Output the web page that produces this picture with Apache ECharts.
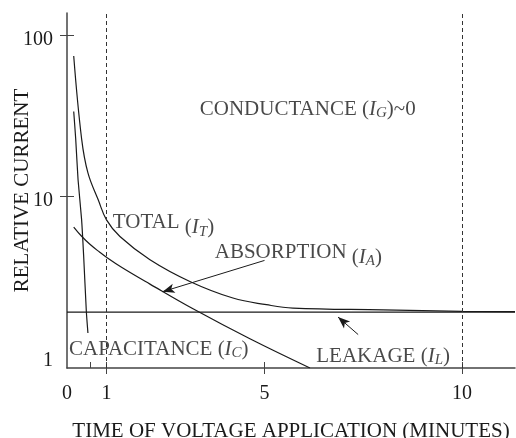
<!DOCTYPE html>
<html>
<head>
<meta charset="utf-8">
<style>
  html, body { margin: 0; padding: 0; background: #fff; }
  #chart { width: 516px; height: 438px; }
</style>
<script src="https://cdn.jsdelivr.net/npm/echarts@6/dist/echarts.min.js"></script>
</head>
<body>
<div id="chart"></div>
<script>
// time of voltage application (minutes) / relative current
const totalT = [0.17, 0.37, 0.53, 0.79, 1.0, 1.34, 2.1, 3.11, 4.2, 5.05, 5.72, 8.0, 10.0, 11.34]
const totalI = [74.7, 22.7, 13.9, 9.44, 7.08, 5.57, 3.99, 2.92, 2.30, 2.09, 1.99, 1.94, 1.90, 1.89]
const absorptionT = [0.17, 0.37, 0.58, 0.83, 1.0, 1.38, 2.1, 3.19, 4.63, 6.15]
const absorptionI = [6.38, 5.59, 4.98, 4.44, 4.13, 3.58, 2.81, 1.97, 1.28, 0.841]
const capacitanceT = [0.17, 0.22, 0.28, 0.37, 0.42, 0.49, 0.53]
const capacitanceI = [33.6, 22.7, 12.6, 7.08, 4.28, 1.89, 1.39]
const leakageT = [0, 11.34]
const leakageI = [1.88, 1.88]

// dashed markers at 1 and 10 minutes
const markerT = [1, 10]

// axis ticks / labels
const xLabels = [0, 1, 5, 10]
const xTicksOut = [1, 5, 10]
const xTicksIn = [0.58, 1, 5, 10]
const yLabels = [1, 10, 100]
const yTicks = [10, 100]
const xRange = [0, 11.34]
const yRange = [0.841, 138.6]

// annotations: [time, current, text]
const notes = [
  [3.36, 34.4, 'CONDUCTANCE ({i|I}{s|G})~0'],
  [1.16, 6.78, 'TOTAL {g|(}{gi|I}{gs|T}{g|)}'],
  [3.74, 4.44, 'ABSORPTION {g|(}{gi|I}{gs|A}{g|)}'],
  [0.05, 1.095, 'CAPACITANCE ({i|I}{s|C})'],
  [6.31, 0.99, 'LEAKAGE ({i|I}{s|L})']
]
// arrows: from -> to
const arrows = [
  [[5.0, 3.95], [2.42, 2.52]],
  [[7.37, 1.36], [6.86, 1.75]]
]

const FONT = 'Liberation Serif'
const INK = '#1a1a1a'
const lg = Math.log10

const pairs = (xs, ys) => xs.map((x, i) => [x, ys[i]])

const curve = (name, xs, ys) => ({
  name,
  type: 'line',
  data: pairs(xs, ys),
  showSymbol: false,
  smooth: 0.4,
  lineStyle: { color: INK, width: 1.2 },
  silent: true
})

const chart = echarts.init(document.getElementById('chart'))

const option = {
  animation: false,
  grid: { left: 67, right: 1, top: 13, bottom: 70, containLabel: false, outerBoundsMode: 'none' },
  xAxis: [
    {
      type: 'value',
      min: xRange[0],
      max: xRange[1],
      axisLine: { show: true, onZero: false, lineStyle: { color: '#444', width: 1.5 } },
      splitLine: { show: false },
      axisTick: { customValues: xTicksOut, length: 6, lineStyle: { color: '#444' } },
      axisLabel: { customValues: xLabels, fontFamily: FONT, fontSize: 20, color: INK, margin: 16 },
      name: 'TIME OF VOLTAGE APPLICATION (MINUTES)',
      nameLocation: 'middle',
      nameGap: 53,
      nameTextStyle: { fontFamily: FONT, fontSize: 21, color: INK }
    },
    {
      type: 'value',
      position: 'bottom',
      min: xRange[0],
      max: xRange[1],
      axisLine: { show: false, onZero: false },
      splitLine: { show: false },
      axisTick: { inside: true, customValues: xTicksIn, length: 6, lineStyle: { color: '#444' } },
      axisLabel: { show: false }
    }
  ],
  yAxis: [
    {
      type: 'log',
      min: yRange[0],
      max: yRange[1],
      axisLine: { show: true, onZero: false, lineStyle: { color: '#444', width: 1.5 } },
      axisTick: { show: false },
      axisLabel: { show: false },
      splitLine: { show: false },
      name: 'RELATIVE CURRENT',
      nameLocation: 'middle',
      nameRotate: 90,
      nameGap: 34,
      nameTextStyle: { fontFamily: FONT, fontSize: 21, color: INK }
    },
    {
      type: 'value',
      position: 'left',
      min: lg(yRange[0]),
      max: lg(yRange[1]),
      axisLine: { show: false, onZero: false },
      splitLine: { show: false },
      axisTick: { customValues: yTicks.map(lg), length: 7, lineStyle: { color: '#444' } },
      axisLabel: {
        customValues: yLabels.map(lg),
        formatter: v => String(Math.round(Math.pow(10, v))),
        fontFamily: FONT, fontSize: 20, color: INK, margin: 14,
        verticalAlign: 'top',
        lineHeight: 9
      }
    },
    {
      type: 'value',
      position: 'left',
      min: lg(yRange[0]),
      max: lg(yRange[1]),
      axisLine: { show: false, onZero: false },
      splitLine: { show: false },
      axisTick: { inside: true, customValues: yTicks.map(lg), length: 7, lineStyle: { color: '#444' } },
      axisLabel: { show: false }
    }
  ],
  series: [
    curve('Total', totalT, totalI),
    curve('Absorption', absorptionT, absorptionI),
    Object.assign(curve('Capacitance', capacitanceT, capacitanceI), { smooth: 0.2 }),
    Object.assign(curve('Leakage', leakageT, leakageI), {
      smooth: false,
      markLine: {
        silent: true,
        symbol: 'none',
        label: { show: false },
        lineStyle: { color: '#333', width: 1, type: [4, 3] },
        data: markerT.map(t => ({ xAxis: t }))
      }
    }),
    {
      name: 'Arrows',
      type: 'line',
      data: [],
      markLine: {
        silent: true,
        symbol: ['none', 'arrow'],
        symbolSize: [7, 12],
        label: { show: false },
        lineStyle: { color: INK, width: 1, type: 'solid' },
        itemStyle: { color: INK },
        data: arrows.map(a => [{ coord: a[0] }, { coord: a[1] }])
      }
    },
    {
      name: 'Notes',
      type: 'scatter',
      symbolSize: 0,
      silent: true,
      data: notes.map(n => ({ value: [n[0], n[1]], text: n[2] })),
      label: {
        show: true,
        position: 'right',
        distance: 0,
        formatter: p => p.data.text,
        fontFamily: FONT,
        fontSize: 21,
        color: INK,
        rich: {
          i: { fontFamily: FONT, fontSize: 21, fontStyle: 'italic', color: INK },
          s: { fontFamily: FONT, fontSize: 15, fontStyle: 'italic', color: INK, lineHeight: 15, padding: [7, 0, 0, 0] },
          g: { fontFamily: FONT, fontSize: 21, color: INK, padding: [10, 0, 0, 0] },
          gi: { fontFamily: FONT, fontSize: 21, fontStyle: 'italic', color: INK, padding: [10, 0, 0, 0] },
          gs: { fontFamily: FONT, fontSize: 15, fontStyle: 'italic', color: INK, lineHeight: 15, padding: [18, 0, 0, 0] }
        }
      }
    }
  ]
}

chart.setOption(option)
</script>
</body>
</html>
